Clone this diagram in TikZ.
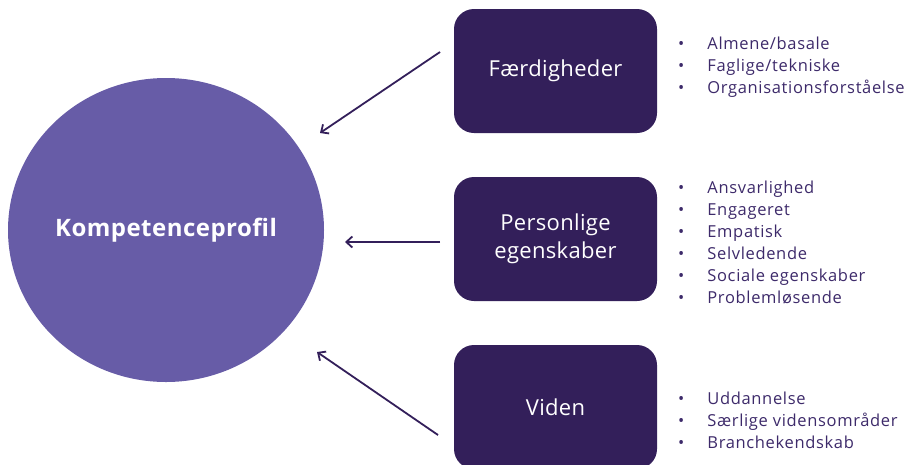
\documentclass[tikz,border=0pt]{standalone}
\usepackage{fontspec}
\setmainfont{Open Sans}
\usetikzlibrary{arrows.meta,shapes.geometric}
\definecolor{circfill}{HTML}{675CA7}
\definecolor{boxfill}{HTML}{331F5A}
\definecolor{listtext}{HTML}{3D2A6A}
\tikzset{
  x=1pt,y=-1pt,
  hub/.style={ellipse,fill=circfill,minimum width=316pt,minimum height=304pt,inner sep=0pt,text=white,font=\fontsize{24}{28}\selectfont\bfseries\addfontfeature{LetterSpace=2}},
  catbox/.style={rectangle,rounded corners=20pt,fill=boxfill,minimum width=203pt,minimum height=124pt,inner sep=0pt,text=white,align=center,font=\fontsize{22}{28}\selectfont\addfontfeature{LetterSpace=1.5}},
  itemlist/.style={anchor=north west,inner sep=0pt,text=listtext,font=\fontsize{16.5}{22}\selectfont\addfontfeature{LetterSpace=4}},
  conn/.style={draw=boxfill,line width=1.8pt,-{Straight Barb[length=6pt,width=11pt,line width=1.8pt]}},
}
\newcommand{\bulletlist}[1]{\begin{tabular}{@{}l@{\hspace{23pt}}l@{}}#1\end{tabular}}
\begin{document}
\begin{tikzpicture}
\useasboundingbox (0,0) rectangle (917,464);
\clip (0,0) rectangle (917,464);
\node[hub] (hub) at (166,230) {Kompetenceprofil};
\node[catbox] (skills) at (555.5,71) {Færdigheder};
\node[catbox] (traits) at (555.5,239) {Personlige\\egenskaber};
\node[catbox] (know) at (555.5,407) {Viden};
\node[itemlist] (l1) at (678,34) {\bulletlist{\textbullet & Almene/basale\\ \textbullet & Faglige/tekniske\\ \textbullet & Organisationsforståelse}};
\node[itemlist] (l2) at (678,178) {\bulletlist{\textbullet & Ansvarlighed\\ \textbullet & Engageret\\ \textbullet & Empatisk\\ \textbullet & Selvledende\\ \textbullet & Sociale egenskaber\\ \textbullet & Problemløsende}};
\node[itemlist] (l3) at (678,389) {\bulletlist{\textbullet & Uddannelse\\ \textbullet & Særlige vidensområder\\ \textbullet & Branchekendskab}};
\coordinate (s1) at (440,52);
\coordinate (e1) at (320,133);
\coordinate (s2) at (440,242);
\coordinate (e2) at (345,242);
\coordinate (s3) at (438,435);
\coordinate (e3) at (317,352);
\draw[conn] (s1) -- (e1);
\draw[conn] (s2) -- (e2);
\draw[conn] (s3) -- (e3);
\end{tikzpicture}
\end{document}
